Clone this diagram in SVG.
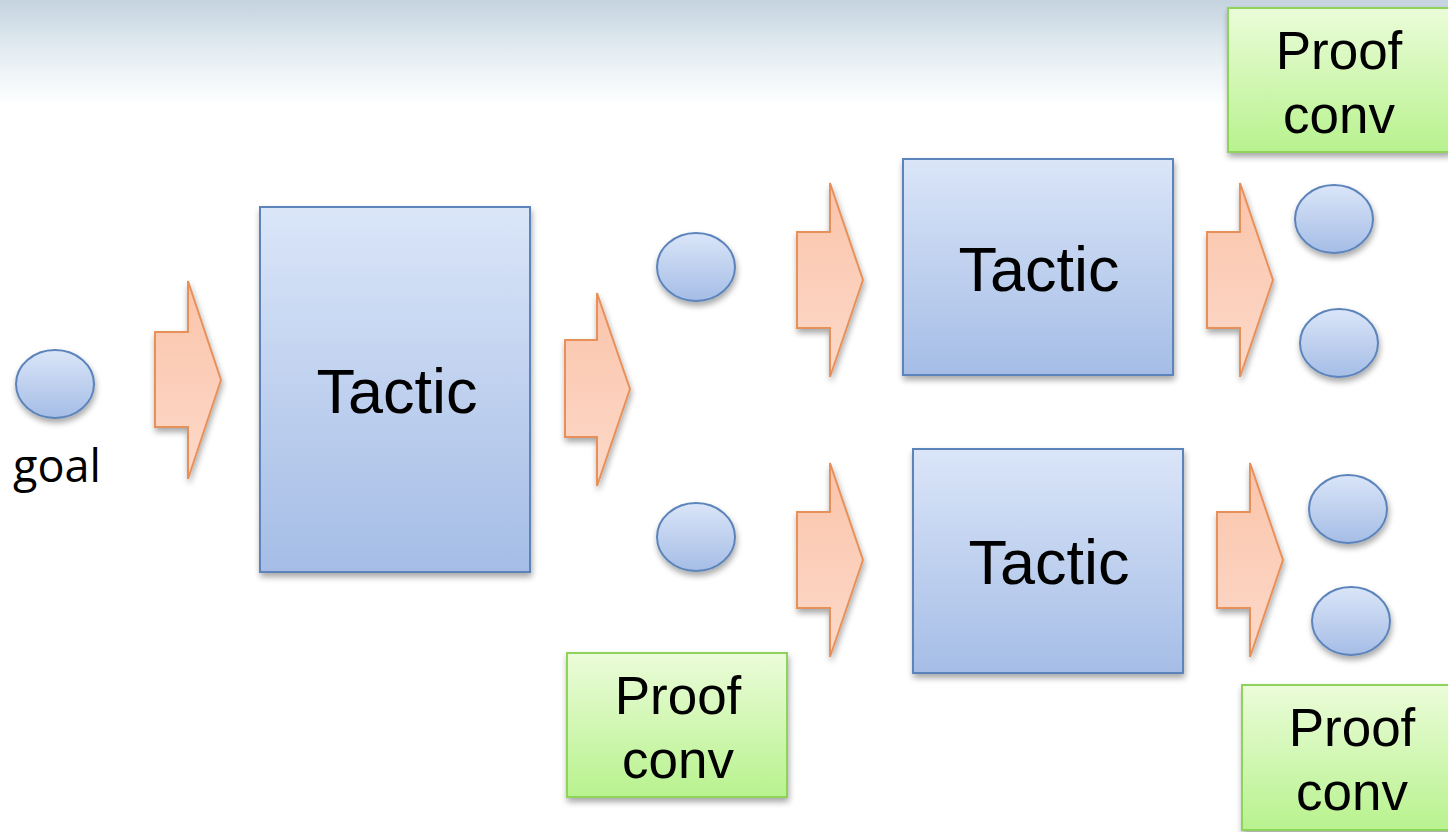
<svg xmlns="http://www.w3.org/2000/svg" width="1448" height="832" viewBox="0 0 1448 832">
<defs>
<linearGradient id="hdr" x1="0" y1="0" x2="0" y2="1">
<stop offset="0" stop-color="#c5d3e0"/>
<stop offset="0.5" stop-color="#e4edf2"/>
<stop offset="1" stop-color="#ffffff"/>
</linearGradient>
<linearGradient id="blue" x1="0" y1="0" x2="0" y2="1">
<stop offset="0" stop-color="#dae5f8"/>
<stop offset="1" stop-color="#a5bde6"/>
</linearGradient>
<linearGradient id="green" x1="0" y1="0" x2="0" y2="1">
<stop offset="0" stop-color="#ebfcd9"/>
<stop offset="1" stop-color="#b8f28e"/>
</linearGradient>
<linearGradient id="orange" x1="0" y1="0" x2="0" y2="1">
<stop offset="0" stop-color="#fbc4aa"/>
<stop offset="1" stop-color="#fcd9c9"/>
</linearGradient>
<filter id="sh" x="-20%" y="-20%" width="140%" height="140%">
<feGaussianBlur in="SourceAlpha" stdDeviation="3"/>
<feOffset dx="1" dy="4"/>
<feComponentTransfer><feFuncA type="linear" slope="0.35"/></feComponentTransfer>
<feMerge><feMergeNode/><feMergeNode in="SourceGraphic"/></feMerge>
</filter>
<style>
.box{fill:url(#blue);stroke:#5b84bb;stroke-width:2;filter:url(#sh)}
.ell{fill:url(#blue);stroke:#5b84bb;stroke-width:2;filter:url(#sh)}
.pc{fill:url(#green);stroke:#8fd45a;stroke-width:2;filter:url(#sh)}
.arr{fill:url(#orange);stroke:#e8905a;stroke-width:2;filter:url(#sh)}
.t{font-family:"Liberation Sans",Arial,sans-serif;fill:#000;text-anchor:middle}
.g{font-family:"Open Sans","Noto Sans",sans-serif;fill:#000;text-anchor:middle}
</style>
</defs>
<rect x="0" y="0" width="1448" height="832" fill="#fff"/>
<rect x="0" y="0" width="1448" height="105" fill="url(#hdr)"/>

<g id="connectors">
<polygon class="arr" points="155,332 188,332 188,281 221,380 188,479 188,427 155,427"/>
<polygon class="arr" points="565,340 597,340 597,293 630,389 597,486 597,437 565,437"/>
<polygon class="arr" points="797,232 830,232 830,183 863,280 830,377 830,328 797,328"/>
<polygon class="arr" points="797,512 830,512 830,463 863,560 830,657 830,608 797,608"/>
<polygon class="arr" points="1207,232 1240,232 1240,183 1273,280 1240,377 1240,328 1207,328"/>
<polygon class="arr" points="1217,512 1250,512 1250,463 1283,560 1250,657 1250,608 1217,608"/>
</g>

<g id="goal">
<ellipse class="ell" cx="55" cy="384" rx="39" ry="34"/>
<text class="g" x="57" y="482" font-size="45">goal</text>
</g>

<g id="tactic1">
<rect class="box" x="260" y="207" width="270" height="365"/>
<text class="t" x="397" y="413" font-size="63">Tactic</text>
</g>
<g id="tactic2">
<rect class="box" x="903" y="159" width="270" height="216"/>
<text class="t" x="1039" y="291" font-size="63">Tactic</text>
</g>
<g id="tactic3">
<rect class="box" x="913" y="449" width="270" height="224"/>
<text class="t" x="1049" y="584" font-size="63">Tactic</text>
</g>

<g id="sub1"><ellipse class="ell" cx="696" cy="267" rx="39" ry="34"/></g>
<g id="sub2"><ellipse class="ell" cx="696" cy="537" rx="39" ry="34"/></g>
<g id="sub3"><ellipse class="ell" cx="1334" cy="219" rx="39" ry="34"/></g>
<g id="sub4"><ellipse class="ell" cx="1339" cy="343" rx="39" ry="34"/></g>
<g id="sub5"><ellipse class="ell" cx="1348" cy="509" rx="39" ry="34"/></g>
<g id="sub6"><ellipse class="ell" cx="1351" cy="621" rx="39" ry="34"/></g>

<g id="proof1">
<rect class="pc" x="1228" y="8" width="222" height="144"/>
<text class="t" x="1339" y="69" font-size="53">Proof</text>
<text class="t" x="1339" y="133" font-size="53">conv</text>
</g>
<g id="proof2">
<rect class="pc" x="567" y="653" width="220" height="144"/>
<text class="t" x="678" y="714" font-size="53">Proof</text>
<text class="t" x="678" y="778" font-size="53">conv</text>
</g>
<g id="proof3">
<rect class="pc" x="1242" y="685" width="210" height="145"/>
<text class="t" x="1352" y="746" font-size="53">Proof</text>
<text class="t" x="1352" y="810" font-size="53">conv</text>
</g>
</svg>
